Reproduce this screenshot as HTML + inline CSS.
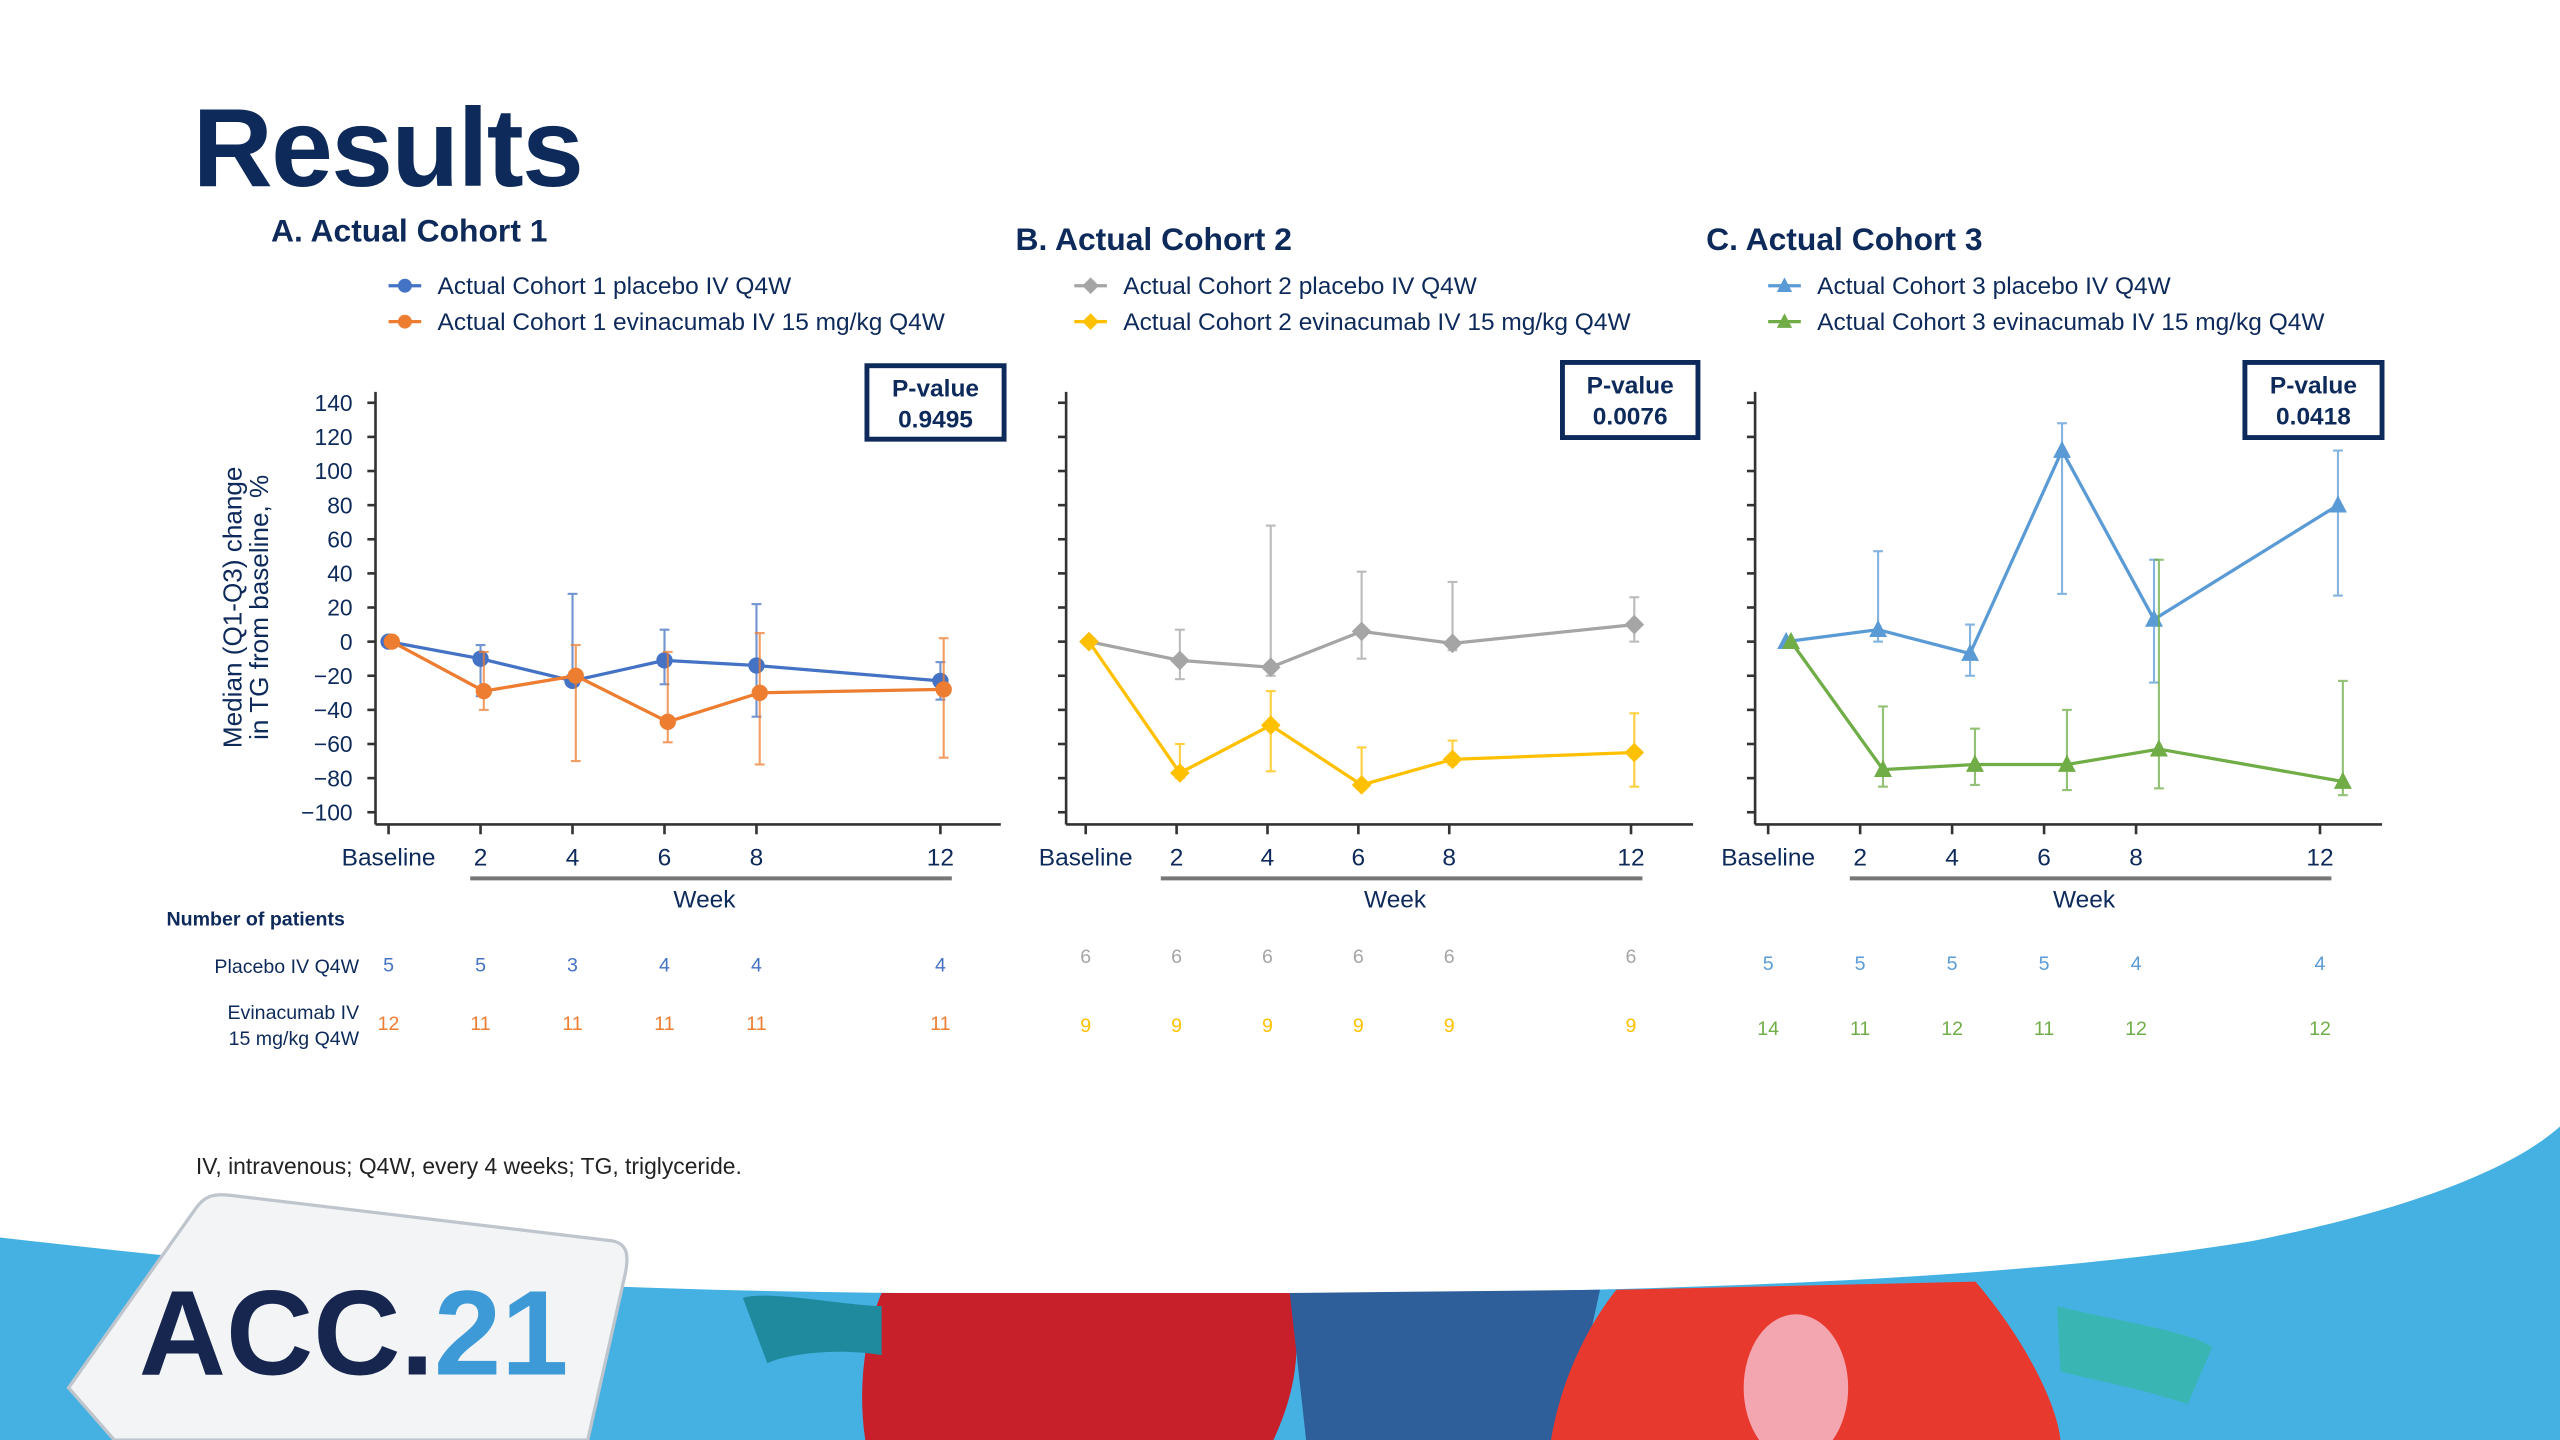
<!DOCTYPE html>
<html><head><meta charset="utf-8"><style>
html,body{margin:0;padding:0;background:#fff;}
svg{display:block;font-family:"Liberation Sans",Arial,sans-serif;}
</style></head><body>
<svg id="slide" width="2560" height="1440" viewBox="0 0 1568 882" xmlns="http://www.w3.org/2000/svg">
<g id="bg">
<path d="M0,758 C150,775 300,790 560,792 C900,795 1200,790 1380,760 C1480,740 1540,715 1568,690 L1568,882 L0,882 Z" fill="#45b1e3"/>
<path d="M540,792 L790,792 C800,830 790,860 780,882 L530,882 C525,850 530,815 540,792 Z" fill="#c8202a"/>
<path d="M790,792 L980,790 L960,882 L800,882 Z" fill="#2f5f9a"/>
<path d="M990,790 L1210,785 C1240,820 1260,860 1262,882 L950,882 C955,850 970,815 990,790 Z" fill="#e8392f"/>
<ellipse cx="1100" cy="850" rx="32" ry="45" fill="#f4a6b0"/>
<path d="M455,795 C470,790 520,800 540,800 L540,830 C510,825 480,830 470,835 Z" fill="#1f8a9e"/>
<path d="M1260,800 C1300,810 1340,815 1355,825 L1340,860 C1310,850 1280,845 1262,840 Z" fill="#39b6b3"/>
<g>
<path d="M140,732 L375,760 C385,762 385,770 383,780 L360,882 L70,882 L42,850 L120,740 C125,733 130,731 140,732 Z" fill="#f2f4f6" stroke="#bfc5cc" stroke-width="2"/>
<text x="85" y="842" font-size="74" font-weight="bold" fill="#16264f">ACC.<tspan fill="#3d9ad6">21</tspan></text>
</g>
</g>
<text x="118" y="114" font-size="68" font-weight="bold" fill="#0d2a5a" letter-spacing="-1">Results</text>
<text x="120" y="719" font-size="14" fill="#222">IV, intravenous; Q4W, every 4 weeks; TG, triglyceride.</text>
<text x="102" y="567" font-size="12" font-weight="bold" fill="#0d2a5a">Number of patients</text>
<text x="220" y="596" font-size="12" fill="#0d2a5a" text-anchor="end">Placebo IV Q4W</text>
<text x="220" y="624" font-size="12" fill="#0d2a5a" text-anchor="end">Evinacumab IV</text>
<text x="220" y="640" font-size="12" fill="#0d2a5a" text-anchor="end">15 mg/kg Q4W</text>
<text transform="translate(152,372) rotate(-90)" font-size="16" fill="#0d2a5a" text-anchor="middle"><tspan x="0" y="-4">Median (Q1-Q3) change</tspan><tspan x="0" y="12">in TG from baseline, %</tspan></text>
<g id="panels"></g>
</svg>
<script>
var weeks = [0, 2, 4, 6, 8, 12];
var weekLabels = ["Baseline", "2", "4", "6", "8", "12"];
var yTicks = [140, 120, 100, 80, 60, 40, 20, 0, -20, -40, -60, -80, -100];

var c1Placebo = [0, -10, -23, -11, -14, -23];
var c1PlaceboLo = [0, -32, -22, -25, -44, -34];
var c1PlaceboHi = [0, -2, 28, 7, 22, -12];
var c1Evina = [0, -29, -20, -47, -30, -28];
var c1EvinaLo = [0, -40, -70, -59, -72, -68];
var c1EvinaHi = [0, -6, -2, -6, 5, 2];

var c2Placebo = [0, -11, -15, 6, -1, 10];
var c2PlaceboLo = [0, -22, -20, -10, -5, 0];
var c2PlaceboHi = [0, 7, 68, 41, 35, 26];
var c2Evina = [0, -77, -49, -84, -69, -65];
var c2EvinaLo = [0, -80, -76, -86, -72, -85];
var c2EvinaHi = [0, -60, -29, -62, -58, -42];

var c3Placebo = [0, 7, -7, 112, 13, 80];
var c3PlaceboLo = [0, 0, -20, 28, -24, 27];
var c3PlaceboHi = [0, 53, 10, 128, 48, 112];
var c3Evina = [0, -75, -72, -72, -63, -82];
var c3EvinaLo = [0, -85, -84, -87, -86, -90];
var c3EvinaHi = [0, -38, -51, -40, 48, -23];

var c1NPlacebo = [5, 5, 3, 4, 4, 4];
var c1NEvina = [12, 11, 11, 11, 11, 11];
var c2NPlacebo = [6, 6, 6, 6, 6, 6];
var c2NEvina = [9, 9, 9, 9, 9, 9];
var c3NPlacebo = [5, 5, 5, 5, 4, 4];
var c3NEvina = [14, 11, 12, 11, 12, 12];

var NS = "http://www.w3.org/2000/svg";
function mk(tag, attrs, parent, txt){
  var e = document.createElementNS(NS, tag);
  for (var k in attrs) e.setAttribute(k, attrs[k]);
  if (txt !== undefined) e.textContent = txt;
  parent.appendChild(e); return e;
}
function yS(v){ return 393 - v * 1.045; }

var panels = [
 {key:"a", title:"A. Actual Cohort 1", tx:166, ty:148, axisX:230, x0:238, x12:576, xEnd:613, wl:288, wr:583, box:[531,224,84,45], p:"0.9495", showY:true,
  s:[{name:"Actual Cohort 1 placebo IV Q4W", c:"#4472c4", m:"circle", v:c1Placebo, lo:c1PlaceboLo, hi:c1PlaceboHi, n:c1NPlacebo, ny:595, off:0},
     {name:"Actual Cohort 1 evinacumab IV 15 mg/kg Q4W", c:"#ed7d31", m:"circle", v:c1Evina, lo:c1EvinaLo, hi:c1EvinaHi, n:c1NEvina, ny:631, off:2}], lx:248},
 {key:"b", title:"B. Actual Cohort 2", tx:622, ty:153, axisX:653, x0:665, x12:999, xEnd:1037, wl:711, wr:1006, box:[957,222,83,46], p:"0.0076", showY:false,
  s:[{name:"Actual Cohort 2 placebo IV Q4W", c:"#a5a5a5", m:"diamond", v:c2Placebo, lo:c2PlaceboLo, hi:c2PlaceboHi, n:c2NPlacebo, ny:590, off:2},
     {name:"Actual Cohort 2 evinacumab IV 15 mg/kg Q4W", c:"#ffc000", m:"diamond", v:c2Evina, lo:c2EvinaLo, hi:c2EvinaHi, n:c2NEvina, ny:632, off:2}], lx:668},
 {key:"c", title:"C. Actual Cohort 3", tx:1045, ty:153, axisX:1075, x0:1083, x12:1421, xEnd:1459, wl:1133, wr:1428, box:[1375,222,84,46], p:"0.0418", showY:false,
  s:[{name:"Actual Cohort 3 placebo IV Q4W", c:"#5b9bd5", m:"tri", v:c3Placebo, lo:c3PlaceboLo, hi:c3PlaceboHi, n:c3NPlacebo, ny:594, off:11},
     {name:"Actual Cohort 3 evinacumab IV 15 mg/kg Q4W", c:"#70ad47", m:"tri", v:c3Evina, lo:c3EvinaLo, hi:c3EvinaHi, n:c3NEvina, ny:634, off:14}], lx:1093}
];

var root = document.getElementById("panels");
panels.forEach(function(P){
  var g = mk("g", {}, root);
  
  
  function xS(w){ return P.x0 + (P.x12 - P.x0) * w / 12; }
  var t = mk("text", {x:P.tx, y:P.ty, "font-size":19.5, "font-weight":"bold", fill:"#0d2a5a"}, g, P.title);
  
  
  P.s.forEach(function(s, i){
    var ly = 175 + i * 22;
    var le = mk("g", {}, g);
    
    
    mk("line", {x1:P.lx-10, y1:ly, x2:P.lx+10, y2:ly, stroke:s.c, "stroke-width":2}, le);
    marker(le, P.lx, ly, s.m, s.c, 0.85);
    mk("text", {x:P.lx+20, y:ly+5, "font-size":15, fill:"#0d2a5a"}, le, s.name);
  });
  var ax = mk("g", {stroke:"#333", "stroke-width":1.6, fill:"none"}, g);
  
  
  mk("line", {x1:P.axisX, y1:240, x2:P.axisX, y2:505}, ax);
  mk("line", {x1:P.axisX, y1:505, x2:P.xEnd, y2:505}, ax);
  yTicks.forEach(function(v){
    mk("line", {x1:P.axisX-5, y1:yS(v), x2:P.axisX, y2:yS(v)}, ax);
    if (P.showY){
      var yl = mk("text", {x:216, y:yS(v)+5, "font-size":14, fill:"#0d2a5a", stroke:"none", "text-anchor":"end"}, g, (v<0?"\u2212":"") + Math.abs(v));
      
      
    }
  });
  weeks.forEach(function(w, i){
    mk("line", {x1:xS(w), y1:505, x2:xS(w), y2:511}, ax);
    var xl = mk("text", {x:xS(w), y:530, "font-size":15, fill:"#0d2a5a", "text-anchor":"middle"}, g, weekLabels[i]);
    
    
  });
  mk("line", {x1:P.wl, y1:538, x2:P.wr, y2:538, stroke:"#777", "stroke-width":2.5}, g);
  var wt = mk("text", {x:(P.wl+P.wr)/2 - 4, y:556, "font-size":15, fill:"#0d2a5a", "text-anchor":"middle"}, g, "Week");
  
  
  var pb = mk("g", {}, g);
  
  
  mk("rect", {x:P.box[0], y:P.box[1], width:P.box[2], height:P.box[3], fill:"#fff", stroke:"#0d2a5a", "stroke-width":3}, pb);
  mk("text", {x:P.box[0]+P.box[2]/2, y:P.box[1]+19, "font-size":15, "font-weight":"bold", fill:"#0d2a5a", "text-anchor":"middle"}, pb, "P-value");
  mk("text", {x:P.box[0]+P.box[2]/2, y:P.box[1]+38, "font-size":15, "font-weight":"bold", fill:"#0d2a5a", "text-anchor":"middle"}, pb, P.p);
  P.s.forEach(function(s, si){
    var sg = mk("g", {}, g);
    
    
    weeks.forEach(function(w, i){
      if (i === 0) return;
      var x = xS(w) + s.off;
      var eb = mk("g", {stroke:s.c, "stroke-width":1.3, opacity:0.75}, sg);
      
      
      mk("line", {x1:x, y1:yS(s.lo[i]), x2:x, y2:yS(s.hi[i])}, eb);
      mk("line", {x1:x-3, y1:yS(s.lo[i]), x2:x+3, y2:yS(s.lo[i])}, eb);
      mk("line", {x1:x-3, y1:yS(s.hi[i]), x2:x+3, y2:yS(s.hi[i])}, eb);
    });
    var pts = weeks.map(function(w, i){ return (xS(w)+s.off) + "," + yS(s.v[i]); }).join(" ");
    var pl = mk("polyline", {points:pts, fill:"none", stroke:s.c, "stroke-width":2}, sg);
    
    
    weeks.forEach(function(w, i){
      var m = marker(sg, xS(w)+s.off, yS(s.v[i]), s.m, s.c, 1);
      
      
    });
    weeks.forEach(function(w, i){
      var nt = mk("text", {x:xS(w), y:s.ny, "font-size":12, fill:s.c, "text-anchor":"middle"}, g, String(s.n[i]));
      
      
    });
  });
});

function marker(parent, x, y, type, c, sc){
  var r = 5 * sc;
  if (type === "circle") return mk("circle", {cx:x, cy:y, r:r, fill:c}, parent);
  if (type === "diamond") return mk("polygon", {points:(x)+","+(y-r*1.2)+" "+(x+r*1.2)+","+y+" "+x+","+(y+r*1.2)+" "+(x-r*1.2)+","+y, fill:c}, parent);
  return mk("polygon", {points:x+","+(y-r*1.2)+" "+(x+r*1.1)+","+(y+r*0.9)+" "+(x-r*1.1)+","+(y+r*0.9), fill:c}, parent);
}
</script>
</body></html>
